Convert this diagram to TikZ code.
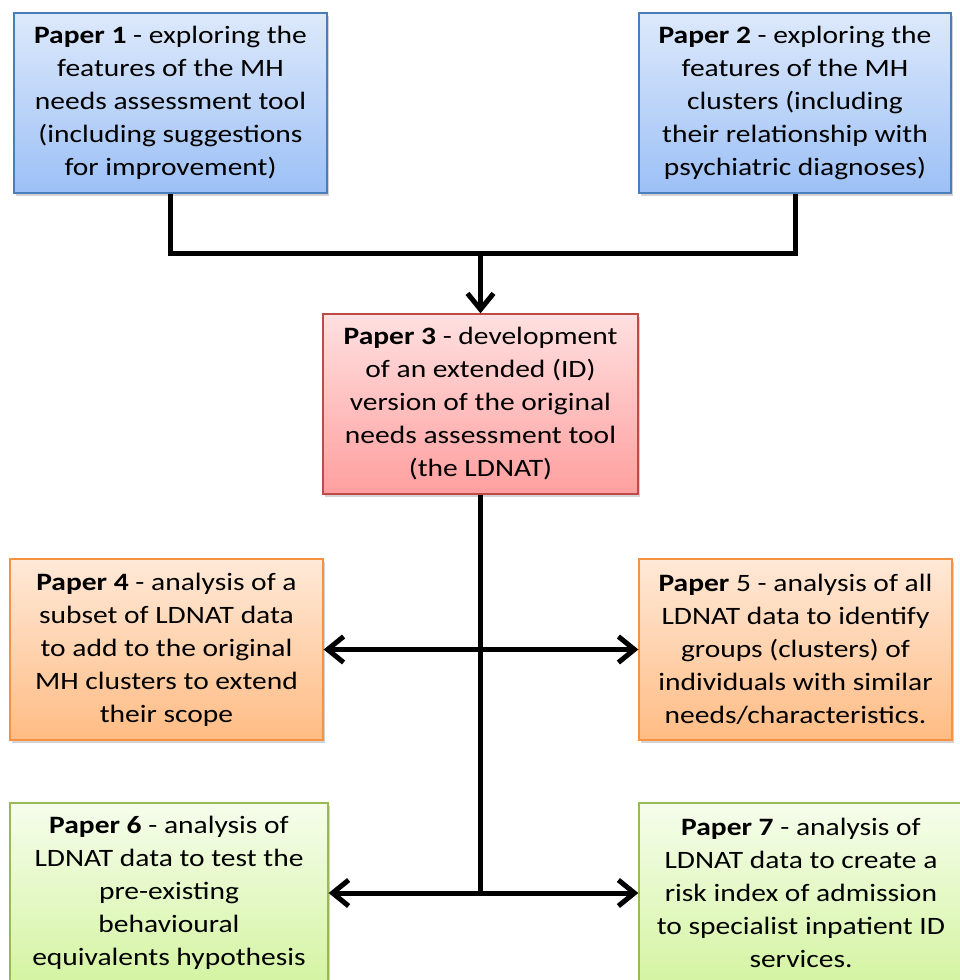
\documentclass[tikz,border=0pt]{standalone}
\usepackage{fontspec}
\setmainfont{Carlito}[FakeStretch=1.18]
\usetikzlibrary{arrows.meta,shadows}
\definecolor{bluetop}{HTML}{DDE9FB}
\definecolor{bluebot}{HTML}{9CC0F6}
\definecolor{blueline}{HTML}{4A7EBB}
\definecolor{redtop}{HTML}{FFE0E0}
\definecolor{redbot}{HTML}{FF9F9F}
\definecolor{redline}{HTML}{BE4B48}
\definecolor{orgtop}{HTML}{FFE9D8}
\definecolor{orgbot}{HTML}{FFBC84}
\definecolor{orgline}{HTML}{F69240}
\definecolor{grntop}{HTML}{F6FDEC}
\definecolor{grnbot}{HTML}{D4F4A2}
\definecolor{grnline}{HTML}{98B954}
\tikzset{
  paper/.style={draw, line width=1.3pt, rectangle, align=center, inner sep=0pt,
    font=\fontsize{25}{33}\selectfont,
    drop shadow={opacity=0.35, shadow xshift=2pt, shadow yshift=-3pt}},
  bluebox/.style={paper, draw=blueline, top color=bluetop, bottom color=bluebot},
  redbox/.style={paper, draw=redline, top color=redtop, bottom color=redbot},
  orgbox/.style={paper, draw=orgline, top color=orgtop, bottom color=orgbot},
  grnbox/.style={paper, draw=grnline, top color=grntop, bottom color=grnbot},
  conn/.style={line width=5pt, black},
  tip/.style={-{Straight Barb[length=16pt,width=26pt,line width=5pt]}},
  dtip/.style={{Straight Barb[length=16pt,width=26pt,line width=5pt]}-{Straight Barb[length=16pt,width=26pt,line width=5pt]}}
}
\begin{document}
\begin{tikzpicture}[x=1pt,y=-1pt]
\useasboundingbox (0,0) rectangle (960,980);
\begin{scope}
\clip (0,0) rectangle (960,980);
\node[bluebox, minimum width=313pt, minimum height=180pt] (p1) at (170.5,103)
  {\textbf{Paper 1} - exploring the\\features of the MH\\needs assessment tool\\(including suggestions\\for improvement)};
\node[bluebox, minimum width=312pt, minimum height=180pt] (p2) at (795,103)
  {\textbf{Paper 2} - exploring the\\features of the MH\\clusters (including\\their relationship with\\psychiatric diagnoses)};
\node[redbox, minimum width=315pt, minimum height=180pt] (p3) at (480.5,404)
  {\textbf{Paper 3} - development\\of an extended (ID)\\version of the original\\needs assessment tool\\(the LDNAT)};
\node[orgbox, minimum width=313pt, minimum height=181pt] (p4) at (166.5,649.5)
  {\textbf{Paper 4} - analysis of a\\subset of LDNAT data\\to add to the original\\MH clusters to extend\\their scope};
\node[orgbox, minimum width=313pt, minimum height=181pt] (p5) at (795.5,649.5)
  {\textbf{Paper} 5 - analysis of all\\LDNAT data to identify\\groups (clusters) of\\individuals with similar\\needs/characteristics.};
\node[grnbox, minimum width=318pt, minimum height=180pt] (p6) at (169,893)
  {\textbf{Paper 6} - analysis of\\LDNAT data to test the\\pre-existing\\behavioural\\equivalents hypothesis};
\node[grnbox, minimum width=324pt, minimum height=180pt] (p7) at (801,893)
  {\textbf{Paper 7} - analysis of\\LDNAT data to create a\\risk index of admission\\to specialist inpatient ID\\services.};
\end{scope}
\coordinate (j) at (480.5,253);
\coordinate (k) at (480.5,893);
\draw[conn] (p1.south) |- (j) -| (p2.south);
\draw[conn, tip] (j) -- (p3.north);
\draw[conn] (p3.south) -- (k);
\draw[conn, dtip] (p4.east) -- (p5.west);
\draw[conn, dtip] (p6.east) -- (p7.west);
\end{tikzpicture}
\end{document}
